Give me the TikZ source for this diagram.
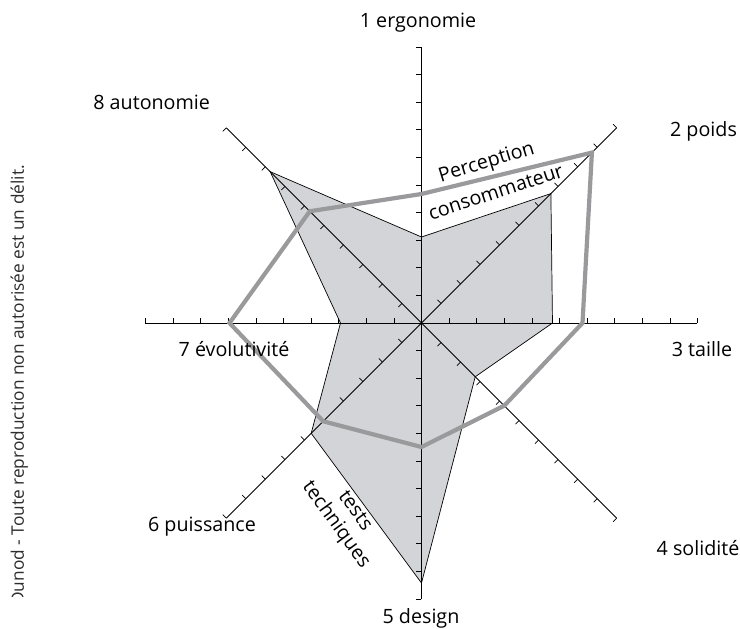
\documentclass[tikz,border=0pt]{standalone}
\usepackage{fontspec}
\setmainfont{Open Sans}
\definecolor{areagray}{RGB}{211,212,215}
\definecolor{linegray}{RGB}{154,154,156}
\definecolor{notegray}{RGB}{45,45,45}
\begin{document}
\begin{tikzpicture}[x=1pt,y=1pt,
  axisline/.style={line width=0.8pt,black},
  ticmark/.style={line width=0.7pt,black},
  areaedge/.style={line width=0.7pt,black},
  perceptline/.style={draw=linegray,line width=4.2pt,line join=miter},
  axlabel/.style={font=\fontsize{19.7}{22}\selectfont,inner sep=0pt},
  curvename/.style={font=\fontsize{19.7}{23.4}\selectfont,inner sep=0pt}]
\useasboundingbox (-421.5,-306) rectangle (318.5,323);

% axis ends, 8 directions, clockwise from the top
\coordinate (O) at (0,0);
\foreach \i in {1,...,8}
  \coordinate (E\i) at ({90-45*(\i-1)}:276);

% "tests techniques" profile
\foreach \i/\r in {1/86,2/183,3/131,4/76,5/260,6/156,7/81,8/214}
  \coordinate (T\i) at ({90-45*(\i-1)}:\r);
% "perception consommateur" profile
\foreach \i/\r in {1/129,2/241,3/161,4/117,5/124,6/139,7/192,8/158}
  \coordinate (P\i) at ({90-45*(\i-1)}:\r);

% shaded area
\fill[areagray] (T1) -- (T2) -- (T3) -- (T4) -- (T5) -- (T6) -- (T7) -- (T8) -- cycle;

% axes
\draw[axisline] (E7) -- (E3);
\draw[axisline] (E1) -- (E5);
\draw[axisline] (E8) -- (E4);
\draw[axisline] (E6) -- (E2);

% graduations: axis angle / side of the tick
\foreach \a/\b in {0/90,180/90,90/180,-90/180,45/135,-135/135,-45/-135,135/-135}
  \foreach \k in {1,...,10}
    \draw[ticmark] ({\a}:{\k*27.6}) -- ++({\b}:5);

% outlines
\draw[areaedge] (T1) -- (T2) -- (T3) -- (T4) -- (T5) -- (T6) -- (T7) -- (T8) -- cycle;
\draw[perceptline] (P1) -- (P2) -- (P3) -- (P4) -- (P5) -- (P6) -- (P7) -- (P8) -- cycle;

% criteria
\node[axlabel,anchor=base] (L1) at (-3.5,295) {1 ergonomie};
\node[axlabel,anchor=base] (L2) at (282,186.3) {2 poids};
\node[axlabel,anchor=base] (L3) at (280.5,-34) {3 taille};
\node[axlabel,anchor=base] (L4) at (276.5,-233) {4 solidité};
\node[axlabel,anchor=base] (L5) at (-0.5,-301) {5 design};
\node[axlabel,anchor=base] (L6) at (-219.5,-209) {6 puissance};
\node[axlabel,anchor=base] (L7) at (-187.5,-34) {7 évolutivité};
\node[axlabel,anchor=base] (L8) at (-269.8,213) {8 autonomie};

% curve names
\node[curvename,rotate=17] (N1) at (65.2,159.7) {Perception};
\node[curvename,rotate=18] (N2) at (74.3,130.7) {consommateur};
\node[curvename,rotate=-54,align=center] (N3) at (-76.8,-195.5) {tests\\techniques};

% copyright line along the left edge, cut off at its start
\begin{scope}
  \clip (-421.5,-274) rectangle (-380,323);
  \node[font=\fontsize{17.3}{20}\selectfont,text=notegray,inner sep=0pt,
        rotate=90,anchor=base east] (C) at (-397.5,158)
    {Dunod - Toute reproduction non autorisée est un délit.};
\end{scope}
\end{tikzpicture}
\end{document}
